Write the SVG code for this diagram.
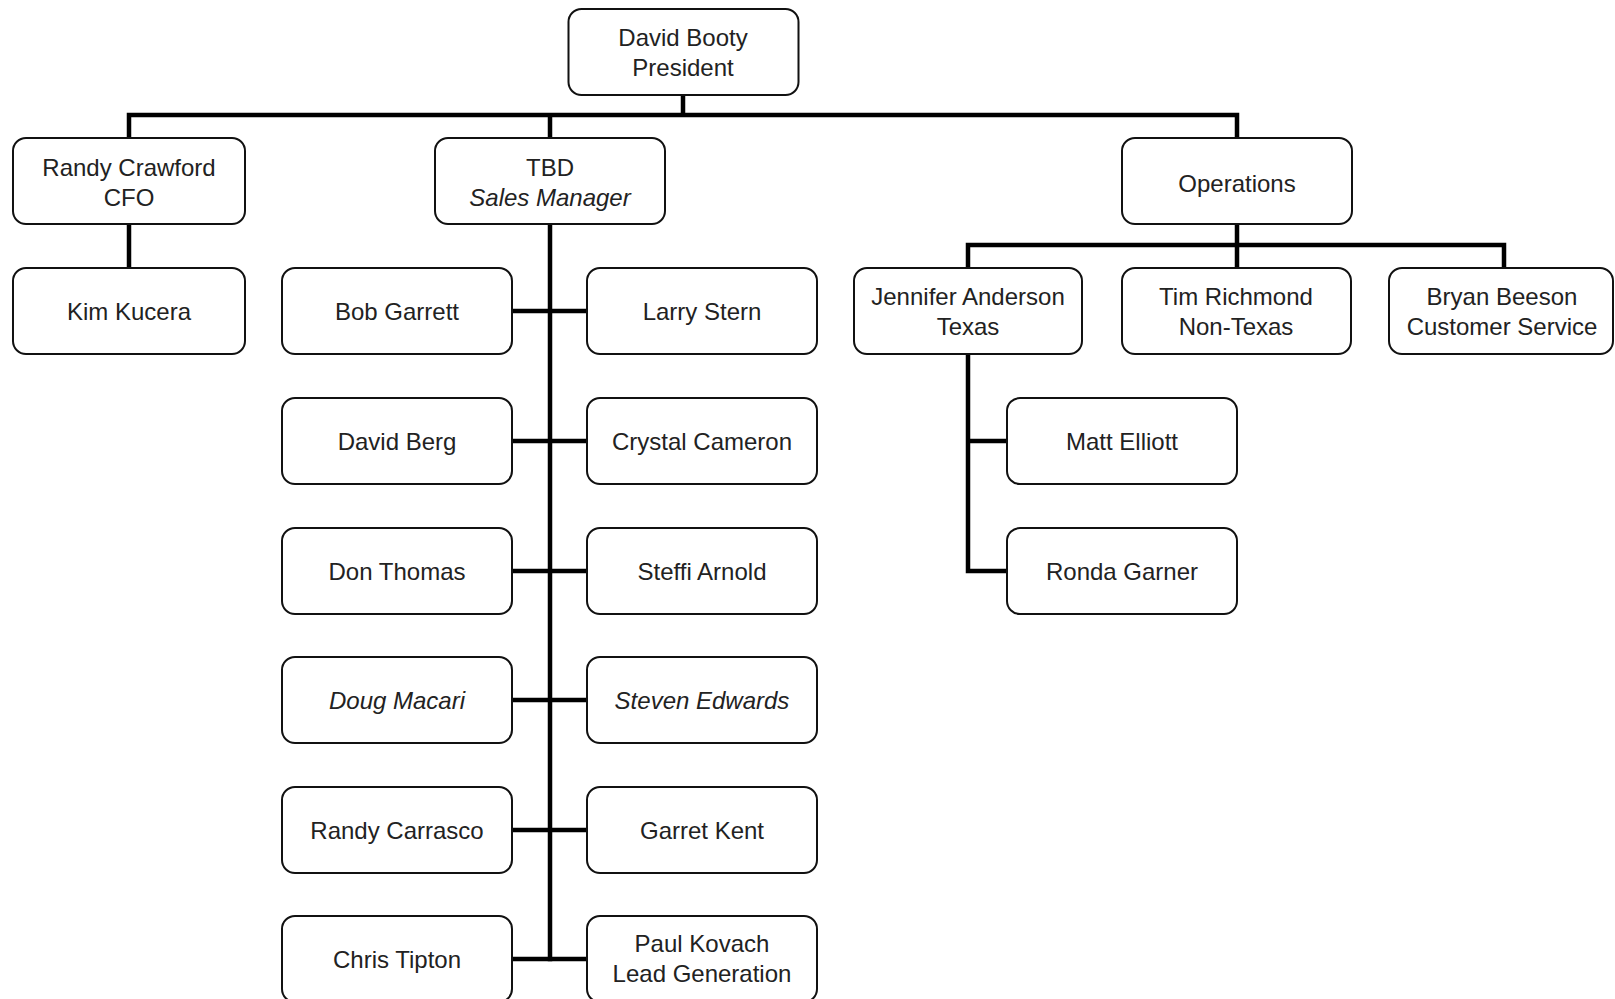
<svg xmlns="http://www.w3.org/2000/svg" width="1615" height="999" viewBox="0 0 1615 999">
<style>
.box{fill:#fff;stroke:#111;stroke-width:2}
.t{font-family:"Liberation Sans",Arial,sans-serif;font-size:24px;fill:#222;text-anchor:middle}
.i{font-style:italic}
.c{stroke:#000;stroke-width:4.5;fill:none;stroke-linecap:square}
</style>
<rect width="1615" height="999" fill="#fff"/>
<g id="connectors">
<path class="c" d="M683 95V115M129 138V115H1237V138M550 115V138"/>
<path class="c" d="M129 224V268"/>
<path class="c" d="M550 224V959"/>
<path class="c" d="M512 311H587M512 441H587M512 571H587M512 700H587M512 830H587M512 959H587"/>
<path class="c" d="M1237 224V245M968 268V245H1504V268M1237 245V268"/>
<path class="c" d="M968 354V571H1007M968 441H1007"/>
</g>
<g id="president"><rect class="box" x="568.5" y="9" width="230" height="86" rx="13"/><text class="t" x="683" y="45.5">David Booty</text><text class="t" x="683" y="75.5">President</text></g>
<g id="cfo"><rect class="box" x="13" y="138" width="232" height="86" rx="13"/><text class="t" x="129" y="175.5">Randy Crawford</text><text class="t" x="129" y="205.5">CFO</text></g>
<g id="sales-manager"><rect class="box" x="435" y="138" width="230" height="86" rx="13"/><text class="t" x="550" y="175.5">TBD</text><text class="t i" x="550" y="205.5">Sales Manager</text></g>
<g id="operations"><rect class="box" x="1122" y="138" width="230" height="86" rx="13"/><text class="t" x="1237" y="191.5">Operations</text></g>
<g id="kim-kucera"><rect class="box" x="13" y="268" width="232" height="86" rx="13"/><text class="t" x="129" y="319.5">Kim Kucera</text></g>
<g id="bob-garrett"><rect class="box" x="282" y="268" width="230" height="86" rx="13"/><text class="t" x="397" y="319.5">Bob Garrett</text></g>
<g id="larry-stern"><rect class="box" x="587" y="268" width="230" height="86" rx="13"/><text class="t" x="702" y="319.5">Larry Stern</text></g>
<g id="david-berg"><rect class="box" x="282" y="398" width="230" height="86" rx="13"/><text class="t" x="397" y="449.5">David Berg</text></g>
<g id="crystal-cameron"><rect class="box" x="587" y="398" width="230" height="86" rx="13"/><text class="t" x="702" y="449.5">Crystal Cameron</text></g>
<g id="don-thomas"><rect class="box" x="282" y="528" width="230" height="86" rx="13"/><text class="t" x="397" y="579.5">Don Thomas</text></g>
<g id="steffi-arnold"><rect class="box" x="587" y="528" width="230" height="86" rx="13"/><text class="t" x="702" y="579.5">Steffi Arnold</text></g>
<g id="doug-macari"><rect class="box" x="282" y="657" width="230" height="86" rx="13"/><text class="t i" x="397" y="708.5">Doug Macari</text></g>
<g id="steven-edwards"><rect class="box" x="587" y="657" width="230" height="86" rx="13"/><text class="t i" x="702" y="708.5">Steven Edwards</text></g>
<g id="randy-carrasco"><rect class="box" x="282" y="787" width="230" height="86" rx="13"/><text class="t" x="397" y="838.5">Randy Carrasco</text></g>
<g id="garret-kent"><rect class="box" x="587" y="787" width="230" height="86" rx="13"/><text class="t" x="702" y="838.5">Garret Kent</text></g>
<g id="chris-tipton"><rect class="box" x="282" y="916" width="230" height="86" rx="13"/><text class="t" x="397" y="967.5">Chris Tipton</text></g>
<g id="paul-kovach"><rect class="box" x="587" y="916" width="230" height="86" rx="13"/><text class="t" x="702" y="952">Paul Kovach</text><text class="t" x="702" y="982">Lead Generation</text></g>
<g id="jennifer-anderson"><rect class="box" x="854" y="268" width="228" height="86" rx="13"/><text class="t" x="968" y="305">Jennifer Anderson</text><text class="t" x="968" y="335">Texas</text></g>
<g id="tim-richmond"><rect class="box" x="1122" y="268" width="229" height="86" rx="13"/><text class="t" x="1236" y="305">Tim Richmond</text><text class="t" x="1236" y="335">Non-Texas</text></g>
<g id="bryan-beeson"><rect class="box" x="1389" y="268" width="224" height="86" rx="13"/><text class="t" x="1502" y="305">Bryan Beeson</text><text class="t" x="1502" y="335">Customer Service</text></g>
<g id="matt-elliott"><rect class="box" x="1007" y="398" width="230" height="86" rx="13"/><text class="t" x="1122" y="449.5">Matt Elliott</text></g>
<g id="ronda-garner"><rect class="box" x="1007" y="528" width="230" height="86" rx="13"/><text class="t" x="1122" y="579.5">Ronda Garner</text></g>
</svg>
